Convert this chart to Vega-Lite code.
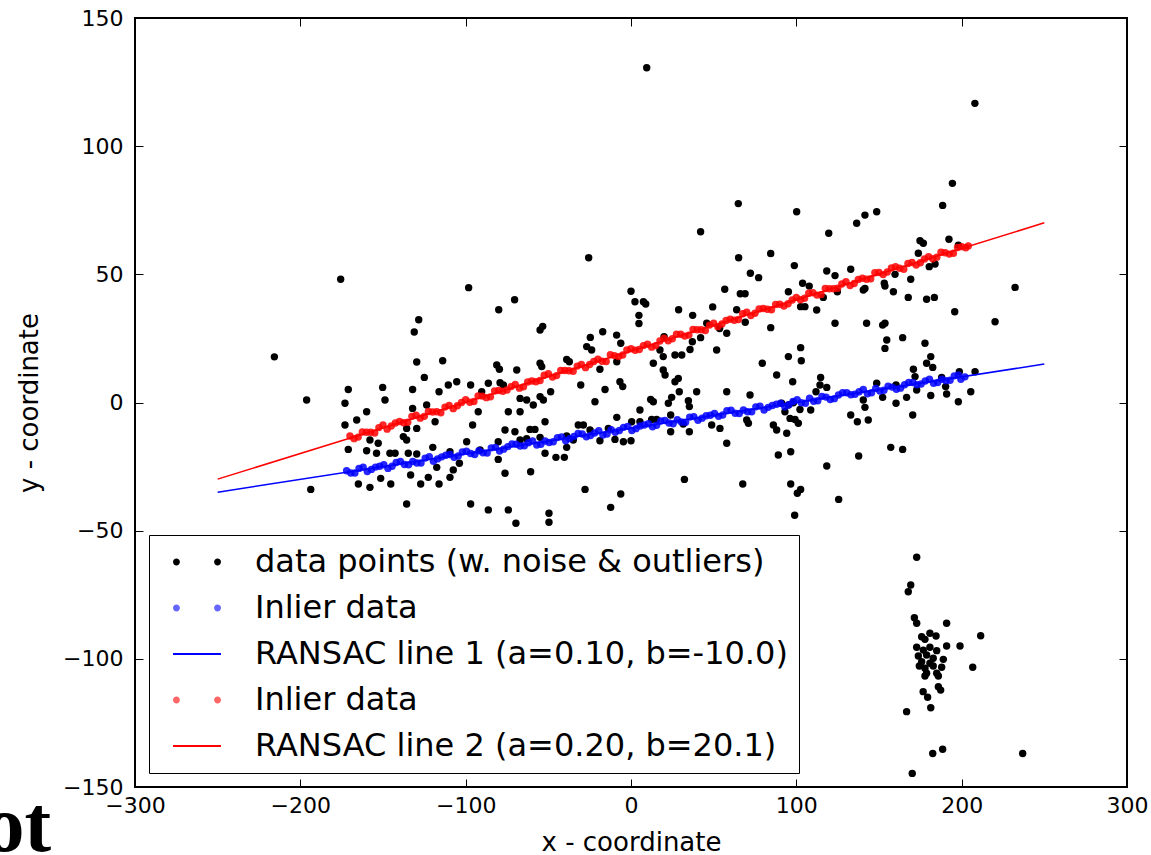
{
  "$schema": "https://vega.github.io/schema/vega-lite/v6.json",
  "autosize": {"type": "none"},
  "padding": {"left": 135, "top": 18, "right": 24, "bottom": 68},
  "width": 992,
  "height": 769,
  "background": "white",
  "title": {"text": "ot", "orient": "bottom", "anchor": "start", "frame": "bounds", "font": "Liberation Serif", "fontWeight": "bold", "fontSize": 80, "color": "black", "baseline": "alphabetic", "offset": -4, "dx": -32},
  "config": {
    "view": {"stroke": "black", "strokeWidth": 2},
    "axis": {"grid": false, "domain": false, "labelFont": "DejaVu Sans", "labelFontSize": 22, "labelColor": "black", "titleFont": "DejaVu Sans", "titleFontSize": 26, "titleFontWeight": "normal", "titleColor": "black", "tickColor": "black", "tickSize": -8, "tickWidth": 1, "labelFlush": false, "labelOverlap": false}
  },
  "datasets": {
    "pts": [
      {"x":-175.6,"y":48.1},{"x":-98.2,"y":44.8},{"x":-80.0,"y":36.2},{"x":-70.4,"y":40.1},{"x":-128.4,"y":32.3},{"x":-131.1,"y":27.5},{"x":-215.7,"y":17.8},{"x":-129.6,"y":15.8},{"x":-113.9,"y":16.3},
      {"x":64.9,"y":77.6},{"x":42.1,"y":66.6},{"x":-25.6,"y":56.5},{"x":65.1,"y":56.5},{"x":84.5,"y":58.1},{"x":72.2,"y":50.4},{"x":77.2,"y":48.7},{"x":56.7,"y":44.2},{"x":66.1,"y":42.4},{"x":69.0,"y":42.4},{"x":0,"y":43.4},{"x":2.4,"y":39.3},{"x":7.5,"y":39.3},{"x":8.9,"y":38.4},{"x":4.8,"y":34.0},{"x":4.8,"y":30.8},{"x":-53.4,"y":29.7},{"x":-55.0,"y":28.3},{"x":28.8,"y":36.2},{"x":37.3,"y":34.0},{"x":49.4,"y":37.3},{"x":63.9,"y":36.2},{"x":84.5,"y":29.2},{"x":69.1,"y":31.3},{"x":53.6,"y":28.9},{"x":57.9,"y":27.0},{"x":45.8,"y":30.9},{"x":42.1,"y":25.3},{"x":51.8,"y":20.5},{"x":-17.1,"y":27.6},{"x":-24.6,"y":25.4},{"x":-8.7,"y":26.3},{"x":-6.2,"y":23.1},{"x":-26.8,"y":21.8},{"x":-23.8,"y":20.5},{"x":20.0,"y":25.7},{"x":37.1,"y":23.7},{"x":35.7,"y":20.7},{"x":17.5,"y":20.5},{"x":19.5,"y":17.9},{"x":26.6,"y":18.5},{"x":30.7,"y":18.5},{"x":-38.9,"y":16.8},
      {"x":194.4,"y":85.5},{"x":188.5,"y":76.9},{"x":100.2,"y":74.4},{"x":141.5,"y":73.1},{"x":148.6,"y":74.4},{"x":136.5,"y":69.9},{"x":119.6,"y":66.0},{"x":174.8,"y":63.1},{"x":176.8,"y":62.1},{"x":192.3,"y":63.7},{"x":198.0,"y":61.4},{"x":173.8,"y":58.2},{"x":98.8,"y":53.4},{"x":118.4,"y":51.3},{"x":123.4,"y":49.5},{"x":132.9,"y":52.0},{"x":180.4,"y":53.0},{"x":183.9,"y":54.0},{"x":159.7,"y":50.0},{"x":169.2,"y":48.1},{"x":153.2,"y":46.5},{"x":153.6,"y":45.4},{"x":158.7,"y":43.2},{"x":140.5,"y":43.9},{"x":141.5,"y":44.5},{"x":103.8,"y":46.5},{"x":107.8,"y":45.4},{"x":95.2,"y":43.2},{"x":116.3,"y":41.0},{"x":124.8,"y":43.2},{"x":167.7,"y":41.0},{"x":178.8,"y":40.3},{"x":183.5,"y":41.0},{"x":102.6,"y":37.4},{"x":105.2,"y":37.4},{"x":112.3,"y":36.1},{"x":195.8,"y":35.4},{"x":232.3,"y":44.9},{"x":220.2,"y":31.5},{"x":123.4,"y":30.9},{"x":142.5,"y":30.9},{"x":152.2,"y":30.2},{"x":153.6,"y":30.9},{"x":164.3,"y":25.3},{"x":154.7,"y":24.4},{"x":153.6,"y":21.1},{"x":177.8,"y":23.1},{"x":102.6,"y":21.4},{"x":95.2,"y":17.9},{"x":181.3,"y":17.9},{"x":103.0,"y":16.3},
      {"x":-81.2,"y":14.6},{"x":-79.6,"y":13.0},{"x":-125.0,"y":9.8},{"x":-105.4,"y":8.1},{"x":-110.5,"y":6.8},{"x":-97.0,"y":6.8},{"x":-86.3,"y":7.5},{"x":-79.2,"y":7.7},{"x":-77.2,"y":6.8},{"x":-69.1,"y":12.7},{"x":-150.2,"y":5.9},{"x":-171.0,"y":5.1},{"x":-132.1,"y":5.1},{"x":-116.1,"y":4.2},{"x":-90.3,"y":4.2},{"x":-196.2,"y":1.0},{"x":-148.8,"y":1.0},{"x":-173.0,"y":-0.3},{"x":-123.6,"y":-1.0},{"x":-132.1,"y":-2.3},{"x":-159.9,"y":-3.6},{"x":-92.4,"y":-3.6},{"x":-74.2,"y":-3.6},{"x":-67.1,"y":-3.6},{"x":-165.9,"y":-6.8},{"x":-118.5,"y":-7.5},{"x":-173.0,"y":-8.8},{"x":-95.8,"y":-8.8},{"x":-135.7,"y":-10.1},{"x":-129.6,"y":-10.1},{"x":-76.2,"y":-10.7},{"x":-70.2,"y":-11.4},{"x":-137.7,"y":-13.3},{"x":-135.7,"y":-14.6},{"x":-99.4,"y":-15.3},{"x":-80.3,"y":-15.3},{"x":-157.9,"y":-14.6},{"x":-152.9,"y":-15.9},{"x":-171.0,"y":-18.3},{"x":-159.9,"y":-18.8},{"x":-153.9,"y":-19.8},{"x":-145.8,"y":-19.8},{"x":-142.7,"y":-19.8},{"x":-134.7,"y":-19.8},{"x":-129.6,"y":-20.1},{"x":-119.9,"y":-17.5},{"x":-109.5,"y":-19.2},{"x":-91.3,"y":-18.5},{"x":-117.5,"y":-25.3},{"x":-103.8,"y":-23.7},{"x":-107.5,"y":-26.3},{"x":-109.5,"y":-29.2},{"x":-80.3,"y":-22.2},{"x":-76.2,"y":-27.6},{"x":-133.3,"y":-28.3},{"x":-122.6,"y":-29.2},{"x":-151.4,"y":-29.6},{"x":-164.9,"y":-31.8},{"x":-157.9,"y":-33.1},{"x":-145.3,"y":-31.8},{"x":-127.2,"y":-31.8},{"x":-116.1,"y":-31.8},{"x":-193.7,"y":-33.9},{"x":-135.7,"y":-39.6},{"x":-97.0,"y":-39.6},{"x":-86.3,"y":-41.9},{"x":-74.2,"y":-41.9},{"x":-69.6,"y":-47.1},
      {"x":-54.0,"y":14.0},{"x":-55.0,"y":15.3},{"x":-37.3,"y":15.9},{"x":-18.8,"y":13.0},{"x":-8.6,"y":15.9},{"x":13.5,"y":15.3},{"x":19.5,"y":12.7},{"x":20.6,"y":10.7},{"x":26.6,"y":8.1},{"x":28.6,"y":9.4},{"x":79.4,"y":15.3},{"x":-30.4,"y":6.8},{"x":-15.7,"y":5.1},{"x":-6.7,"y":8.1},{"x":-5.0,"y":6.2},{"x":-48.6,"y":4.2},{"x":39.7,"y":4.2},{"x":57.9,"y":4.2},{"x":72.0,"y":2.9},{"x":88.1,"y":10.7},{"x":29.2,"y":4.2},{"x":-67.1,"y":1.6},{"x":-63.1,"y":1.0},{"x":-59.1,"y":-1.0},{"x":-55.0,"y":2.3},{"x":-53.0,"y":1.0},{"x":-21.8,"y":0.3},{"x":11.9,"y":1.2},{"x":13.5,"y":0.3},{"x":22.6,"y":-0.3},{"x":24.6,"y":2.0},{"x":34.7,"y":0.7},{"x":35.3,"y":-1.6},{"x":5.4,"y":-2.9},{"x":-52.0,"y":-7.5},{"x":-8.6,"y":-5.8},{"x":0.4,"y":-7.5},{"x":5.4,"y":-7.5},{"x":12.5,"y":-6.6},{"x":15.5,"y":-6.6},{"x":24.0,"y":-4.9},{"x":-31.9,"y":-8.8},{"x":-28.8,"y":-8.8},{"x":-61.1,"y":-10.5},{"x":-58.1,"y":-10.5},{"x":-24.8,"y":-10.7},{"x":-13.7,"y":-10.1},{"x":24.0,"y":-11.4},{"x":31.6,"y":-8.4},{"x":35.3,"y":-11.4},{"x":48.8,"y":-8.8},{"x":53.8,"y":-10.1},{"x":70.0,"y":-6.8},{"x":71.0,"y":-8.1},{"x":-67.1,"y":-14.6},{"x":-63.1,"y":-14.1},{"x":-55.0,"y":-13.6},{"x":-38.9,"y":-13.1},{"x":-34.9,"y":-14.6},{"x":-18.8,"y":-14.9},{"x":-9.7,"y":-14.4},{"x":-4.6,"y":-15.3},{"x":0.0,"y":-14.9},{"x":-38.9,"y":-17.5},{"x":-52.0,"y":-19.8},{"x":-45.4,"y":-21.4},{"x":-40.3,"y":-21.4},{"x":57.9,"y":-15.9},{"x":-60.7,"y":-27.0},{"x":-27.8,"y":-33.9},{"x":-6.2,"y":-35.7},{"x":-12.3,"y":-40.9},{"x":32.3,"y":-30.0},{"x":67.6,"y":-31.8},{"x":-49.6,"y":-43.2},{"x":-49.6,"y":-46.7},{"x":86.1,"y":-8.8},{"x":88.1,"y":-10.7},{"x":89.1,"y":-20.5},
      {"x":178.8,"y":15.3},{"x":182.5,"y":13.7},{"x":170.8,"y":13.0},{"x":114.7,"y":9.8},{"x":97.8,"y":8.1},{"x":114.3,"y":6.8},{"x":118.4,"y":5.9},{"x":111.9,"y":4.2},{"x":148.6,"y":7.5},{"x":171.8,"y":10.1},{"x":187.9,"y":9.8},{"x":198.6,"y":12.0},{"x":208.1,"y":12.0},{"x":160.3,"y":6.8},{"x":172.8,"y":4.9},{"x":190.3,"y":6.2},{"x":190.9,"y":3.3},{"x":181.3,"y":2.7},{"x":205.5,"y":4.2},{"x":198.0,"y":0.3},{"x":152.2,"y":2.0},{"x":166.7,"y":2.0},{"x":160.3,"y":-0.3},{"x":140.5,"y":1.0},{"x":141.5,"y":-1.9},{"x":170.4,"y":-4.9},{"x":91.1,"y":-0.3},{"x":95.2,"y":-1.0},{"x":98.2,"y":-0.1},{"x":102.2,"y":-2.7},{"x":108.7,"y":-2.9},{"x":93.1,"y":-3.6},{"x":96.2,"y":-6.2},{"x":99.2,"y":-6.6},{"x":101.2,"y":-8.1},{"x":132.9,"y":-4.9},{"x":136.9,"y":-7.5},{"x":143.5,"y":-6.8},{"x":94.2,"y":-12.0},{"x":96.6,"y":-19.2},{"x":157.1,"y":-17.5},{"x":164.3,"y":-18.3},{"x":137.7,"y":-20.9},{"x":118.4,"y":-24.8},{"x":96.6,"y":-31.8},{"x":100.6,"y":-35.4},{"x":102.6,"y":-33.9},{"x":125.6,"y":-37.8},{"x":99.0,"y":-44.0},
      {"x":172.8,"y":-60.4},{"x":169.2,"y":-71.2},{"x":167.7,"y":-73.8},{"x":171.4,"y":-84.0},{"x":172.8,"y":-86.1},{"x":190.9,"y":-86.1},{"x":211.5,"y":-91.0},{"x":175.8,"y":-91.4},{"x":180.8,"y":-90.0},{"x":184.5,"y":-91.1},{"x":177.8,"y":-92.4},{"x":199.0,"y":-95.0},{"x":190.9,"y":-95.0},{"x":172.8,"y":-95.5},{"x":176.8,"y":-96.6},{"x":180.8,"y":-95.5},{"x":184.9,"y":-96.8},{"x":173.8,"y":-98.9},{"x":178.8,"y":-98.5},{"x":182.8,"y":-99.8},{"x":188.9,"y":-100.2},{"x":175.8,"y":-101.1},{"x":180.8,"y":-101.7},{"x":174.4,"y":-102.8},{"x":177.8,"y":-103.7},{"x":182.8,"y":-102.8},{"x":187.9,"y":-103.3},{"x":178.8,"y":-105.6},{"x":184.9,"y":-105.6},{"x":177.8,"y":-106.7},{"x":185.9,"y":-106.7},{"x":206.7,"y":-103.3},{"x":185.9,"y":-110.9},{"x":187.3,"y":-112.2},{"x":176.7,"y":-112.8},{"x":179.4,"y":-115.0},{"x":181.3,"y":-119.1},{"x":166.7,"y":-120.6},{"x":188.5,"y":-135.3},{"x":182.5,"y":-136.9},{"x":236.9,"y":-136.9},{"x":170.1,"y":-144.7},
      {"x":9.5,"y":130.6},{"x":208.0,"y":116.7}
    ],
    "in1": [
      {"x":-172,"y":-26.6},{"x":-167,"y":-27.5},{"x":-162,"y":-25.2},{"x":-157,"y":-26.1},{"x":-152,"y":-24.9},{"x":-147,"y":-25.7},{"x":-142,"y":-23.4},{"x":-137,"y":-24.2},{"x":-132,"y":-23.0},{"x":-127,"y":-23.6},{"x":-122,"y":-21.1},{"x":-117,"y":-22.0},{"x":-112,"y":-20.6},{"x":-107,"y":-21.4},{"x":-102,"y":-19.3},{"x":-97,"y":-19.9},{"x":-92,"y":-18.8},{"x":-87,"y":-19.7},{"x":-82,"y":-17.5},{"x":-77,"y":-18.2},{"x":-72,"y":-16.2},{"x":-67,"y":-17.0},{"x":-62,"y":-15.7},{"x":-57,"y":-16.6},{"x":-52,"y":-15.0},{"x":-47,"y":-15.3},{"x":-42,"y":-13.4},{"x":-37,"y":-14.1},{"x":-32,"y":-12.1},{"x":-27,"y":-13.4},{"x":-22,"y":-11.9},{"x":-17,"y":-12.7},{"x":-12,"y":-10.6},{"x":-7,"y":-10.9},{"x":-2,"y":-9.3},{"x":3,"y":-10.2},{"x":8,"y":-8.8},{"x":13,"y":-9.5},{"x":18,"y":-7.2},{"x":23,"y":-8.0},{"x":28,"y":-6.7},{"x":33,"y":-7.7},{"x":38,"y":-5.5},{"x":43,"y":-6.1},{"x":48,"y":-5.0},{"x":53,"y":-5.4},{"x":58,"y":-3.2},{"x":63,"y":-4.2},{"x":68,"y":-2.9},{"x":73,"y":-3.6},{"x":78,"y":-1.4},{"x":83,"y":-1.9},{"x":88,"y":-0.7},{"x":93,"y":-1.7},{"x":98,"y":0.4},{"x":103,"y":-0.1},{"x":108,"y":1.7},{"x":113,"y":0.7},{"x":118,"y":2.1},{"x":123,"y":1.5},{"x":128,"y":3.8},{"x":133,"y":3.0},{"x":138,"y":4.2},{"x":143,"y":3.4},{"x":148,"y":5.5},{"x":153,"y":4.8},{"x":158,"y":6.0},{"x":163,"y":5.6},{"x":168,"y":7.8},{"x":173,"y":6.9},{"x":178,"y":8.4},{"x":183,"y":7.5},{"x":188,"y":9.1},{"x":193,"y":8.7},{"x":198,"y":10.7},{"x":202,"y":10.0},
      {"x":-169.5,"y":-27.5},{"x":-164.5,"y":-25.7},{"x":-159.5,"y":-26.9},{"x":-154.5,"y":-25.2},{"x":-149.5,"y":-24.3},{"x":-144.5,"y":-24.9},{"x":-139.5,"y":-23.0},{"x":-134.5,"y":-24.3},{"x":-129.5,"y":-23.6},{"x":-124.5,"y":-21.7},{"x":-119.5,"y":-22.9},{"x":-114.5,"y":-21.2},{"x":-109.5,"y":-20.3},{"x":-104.5,"y":-20.9},{"x":-99.5,"y":-19.0},{"x":-94.5,"y":-20.3},{"x":-89.5,"y":-19.6},{"x":-84.5,"y":-17.7},{"x":-79.5,"y":-18.9},{"x":-74.5,"y":-17.2},{"x":-69.5,"y":-16.3},{"x":-64.5,"y":-16.9},{"x":-59.5,"y":-15.0},{"x":-54.5,"y":-16.3},{"x":-49.5,"y":-15.6},{"x":-44.5,"y":-13.7},{"x":-39.5,"y":-14.9},{"x":-34.5,"y":-13.2},{"x":-29.5,"y":-12.3},{"x":-24.5,"y":-12.9},{"x":-19.5,"y":-11.0},{"x":-14.5,"y":-12.3},{"x":-9.5,"y":-11.6},{"x":-4.5,"y":-9.7},{"x":0.5,"y":-10.9},{"x":5.5,"y":-9.2},{"x":10.5,"y":-8.3},{"x":15.5,"y":-8.9},{"x":20.5,"y":-7.0},{"x":25.5,"y":-8.3},{"x":30.5,"y":-7.6},{"x":35.5,"y":-5.7},{"x":40.5,"y":-6.9},{"x":45.5,"y":-5.2},{"x":50.5,"y":-4.3},{"x":55.5,"y":-4.9},{"x":60.5,"y":-3.0},{"x":65.5,"y":-4.3},{"x":70.5,"y":-3.6},{"x":75.5,"y":-1.7},{"x":80.5,"y":-2.9},{"x":85.5,"y":-1.2},{"x":90.5,"y":-0.3},{"x":95.5,"y":-0.9},{"x":100.5,"y":1.1},{"x":105.5,"y":-0.3},{"x":110.5,"y":0.5},{"x":115.5,"y":2.4},{"x":120.5,"y":1.2},{"x":125.5,"y":2.9},{"x":130.5,"y":3.8},{"x":135.5,"y":3.2},{"x":140.5,"y":5.1},{"x":145.5,"y":3.8},{"x":150.5,"y":4.5},{"x":155.5,"y":6.4},{"x":160.5,"y":5.2},{"x":165.5,"y":6.9},{"x":170.5,"y":7.8},{"x":175.5,"y":7.2},{"x":180.5,"y":9.1},{"x":185.5,"y":7.8},{"x":190.5,"y":8.5},{"x":195.5,"y":10.4},{"x":199.5,"y":9.1}
    ],
    "in2": [
      {"x":-170,"y":-13.1},{"x":-165,"y":-13.5},{"x":-160,"y":-11.6},{"x":-155,"y":-11.9},{"x":-150,"y":-8.8},{"x":-145,"y":-9.2},{"x":-140,"y":-7.4},{"x":-135,"y":-7.7},{"x":-130,"y":-5.0},{"x":-125,"y":-5.4},{"x":-120,"y":-3.7},{"x":-115,"y":-4.0},{"x":-110,"y":-1.2},{"x":-105,"y":-1.3},{"x":-100,"y":1.1},{"x":-95,"y":0.4},{"x":-90,"y":2.5},{"x":-85,"y":2.2},{"x":-80,"y":4.7},{"x":-75,"y":4.9},{"x":-70,"y":7.0},{"x":-65,"y":6.1},{"x":-60,"y":8.4},{"x":-55,"y":8.6},{"x":-50,"y":11.2},{"x":-45,"y":10.5},{"x":-40,"y":12.5},{"x":-35,"y":12.2},{"x":-30,"y":14.8},{"x":-25,"y":14.8},{"x":-20,"y":16.9},{"x":-15,"y":16.0},{"x":-10,"y":18.3},{"x":-5,"y":18.5},{"x":0,"y":21.0},{"x":5,"y":20.7},{"x":10,"y":22.7},{"x":15,"y":22.2},{"x":20,"y":25.1},{"x":25,"y":24.9},{"x":30,"y":26.6},{"x":35,"y":26.3},{"x":40,"y":28.4},{"x":45,"y":28.1},{"x":50,"y":30.9},{"x":55,"y":30.6},{"x":60,"y":32.5},{"x":65,"y":32.4},{"x":70,"y":35.2},{"x":75,"y":34.8},{"x":80,"y":36.7},{"x":85,"y":36.2},{"x":90,"y":38.3},{"x":95,"y":38.5},{"x":100,"y":41.0},{"x":105,"y":40.7},{"x":110,"y":42.8},{"x":115,"y":42.1},{"x":120,"y":44.4},{"x":125,"y":44.6},{"x":130,"y":47.1},{"x":135,"y":46.4},{"x":140,"y":48.5},{"x":145,"y":48.3},{"x":150,"y":50.7},{"x":155,"y":50.9},{"x":160,"y":53.0},{"x":165,"y":52.0},{"x":170,"y":54.6},{"x":175,"y":54.5},{"x":180,"y":56.9},{"x":185,"y":56.7},{"x":190,"y":58.4},{"x":195,"y":58.2},{"x":200,"y":60.8},{"x":204,"y":61.1},
      {"x":-167.5,"y":-14.1},{"x":-162.5,"y":-11.5},{"x":-157.5,"y":-11.6},{"x":-152.5,"y":-9.8},{"x":-147.5,"y":-10.4},{"x":-142.5,"y":-8.0},{"x":-137.5,"y":-7.9},{"x":-132.5,"y":-5.4},{"x":-127.5,"y":-6.1},{"x":-122.5,"y":-3.5},{"x":-117.5,"y":-3.6},{"x":-112.5,"y":-1.8},{"x":-107.5,"y":-2.4},{"x":-102.5,"y":0.0},{"x":-97.5,"y":0.1},{"x":-92.5,"y":2.6},{"x":-87.5,"y":1.9},{"x":-82.5,"y":4.5},{"x":-77.5,"y":4.4},{"x":-72.5,"y":6.2},{"x":-67.5,"y":5.6},{"x":-62.5,"y":8.0},{"x":-57.5,"y":8.1},{"x":-52.5,"y":10.6},{"x":-47.5,"y":9.9},{"x":-42.5,"y":12.5},{"x":-37.5,"y":12.4},{"x":-32.5,"y":14.2},{"x":-27.5,"y":13.6},{"x":-22.5,"y":16.0},{"x":-17.5,"y":16.1},{"x":-12.5,"y":18.6},{"x":-7.5,"y":17.9},{"x":-2.5,"y":20.5},{"x":2.5,"y":20.4},{"x":7.5,"y":22.2},{"x":12.5,"y":21.6},{"x":17.5,"y":24.0},{"x":22.5,"y":24.1},{"x":27.5,"y":26.6},{"x":32.5,"y":25.9},{"x":37.5,"y":28.5},{"x":42.5,"y":28.4},{"x":47.5,"y":30.2},{"x":52.5,"y":29.6},{"x":57.5,"y":32.0},{"x":62.5,"y":32.1},{"x":67.5,"y":34.6},{"x":72.5,"y":33.9},{"x":77.5,"y":36.5},{"x":82.5,"y":36.4},{"x":87.5,"y":38.2},{"x":92.5,"y":37.6},{"x":97.5,"y":40.0},{"x":102.5,"y":40.1},{"x":107.5,"y":42.6},{"x":112.5,"y":41.9},{"x":117.5,"y":44.5},{"x":122.5,"y":44.4},{"x":127.5,"y":46.2},{"x":132.5,"y":45.6},{"x":137.5,"y":48.0},{"x":142.5,"y":48.1},{"x":147.5,"y":50.6},{"x":152.5,"y":49.9},{"x":157.5,"y":52.5},{"x":162.5,"y":52.4},{"x":167.5,"y":54.2},{"x":172.5,"y":53.6},{"x":177.5,"y":56.0},{"x":182.5,"y":56.1},{"x":187.5,"y":58.6},{"x":192.5,"y":57.9},{"x":197.5,"y":60.5},{"x":202.5,"y":60.4}
    ],
    "ln1": [{"x":-250,"y":-35.0},{"x":250,"y":15.0}],
    "ln2": [{"x":-250,"y":-29.9},{"x":250,"y":70.1}]
  },
  "layer": [
    {
      "layer": [
        {
          "data": {"name": "pts"},
          "mark": {"type": "point", "filled": true, "size": 55, "opacity": 1, "strokeWidth": 0},
          "encoding": {
            "x": {"field": "x", "type": "quantitative", "scale": {"domain": [-300, 300], "nice": false, "zero": false}, "axis": {"orient": "bottom", "title": "x - coordinate", "values": [-300, -200, -100, 0, 100, 200, 300], "labelPadding": 16, "titlePadding": 13}},
            "y": {"field": "y", "type": "quantitative", "scale": {"domain": [-150, 150], "nice": false, "zero": false}, "axis": {"orient": "left", "title": "y - coordinate", "values": [-150, -100, -50, 0, 50, 100, 150], "labelPadding": 20, "titlePadding": 20}},
            "color": {
              "datum": "pts", "type": "nominal",
              "scale": {"domain": ["pts", "in1", "ln1", "in2", "ln2"], "range": ["#000000", "#0000ff", "#0000ff", "#ff0000", "#ff0000"]},
              "legend": {
                "title": null, "orient": "bottom-left", "direction": "vertical", "offset": 14, "padding": 11,
                "fillColor": "white", "strokeColor": "black", "cornerRadius": 0,
                "symbolSize": 900, "symbolOffset": 21, "labelOffset": 42, "rowPadding": 14, "symbolStrokeWidth": 0,
                "labelFont": "DejaVu Sans", "labelFontSize": 32, "labelColor": "black", "labelLimit": 2000,
                "labelExpr": "datum.value === 'pts' ? 'data points (w. noise & outliers)  ' : datum.value === 'ln1' ? 'RANSAC line 1 (a=0.10, b=-10.0)' : datum.value === 'ln2' ? 'RANSAC line 2 (a=0.20, b=20.1)' : 'Inlier data'"
              }
            }
          }
        },
        {
          "data": {"values": []},
          "mark": {"type": "point", "filled": true},
          "encoding": {
            "color": {"datum": "pts", "type": "nominal"},
            "shape": {
              "datum": "pts", "type": "nominal",
              "scale": {"domain": ["pts", "in1", "ln1", "in2", "ln2"], "range": [
                "M-1.6,0A0.23,0.23 0 1,0 -1.14,0A0.23,0.23 0 1,0 -1.6,0ZM1.14,0A0.23,0.23 0 1,0 1.6,0A0.23,0.23 0 1,0 1.14,0Z",
                "M-1.6,0A0.23,0.23 0 1,0 -1.14,0A0.23,0.23 0 1,0 -1.6,0ZM1.14,0A0.23,0.23 0 1,0 1.6,0A0.23,0.23 0 1,0 1.14,0Z",
                "M-1.6,-0.06L1.6,-0.06L1.6,0.06L-1.6,0.06Z",
                "M-1.6,0A0.23,0.23 0 1,0 -1.14,0A0.23,0.23 0 1,0 -1.6,0ZM1.14,0A0.23,0.23 0 1,0 1.6,0A0.23,0.23 0 1,0 1.14,0Z",
                "M-1.6,-0.06L1.6,-0.06L1.6,0.06L-1.6,0.06Z"
              ]},
              "legend": {"title": null}
            },
            "opacity": {
              "datum": "pts", "type": "nominal",
              "scale": {"type": "ordinal", "domain": ["pts", "in1", "ln1", "in2", "ln2"], "range": [1, 0.6, 1, 0.6, 1]},
              "legend": {"title": null}
            }
          }
        },
        {
          "data": {"name": "in1"},
          "mark": {"type": "point", "filled": true, "size": 55, "opacity": 0.85, "strokeWidth": 0},
          "encoding": {
            "x": {"field": "x", "type": "quantitative"},
            "y": {"field": "y", "type": "quantitative"},
            "color": {"datum": "in1", "type": "nominal"}
          }
        },
        {
          "data": {"name": "ln1"},
          "mark": {"type": "line", "strokeWidth": 1.5},
          "encoding": {
            "x": {"field": "x", "type": "quantitative"},
            "y": {"field": "y", "type": "quantitative"},
            "color": {"datum": "ln1", "type": "nominal"}
          }
        },
        {
          "data": {"name": "in2"},
          "mark": {"type": "point", "filled": true, "size": 55, "opacity": 0.85, "strokeWidth": 0},
          "encoding": {
            "x": {"field": "x", "type": "quantitative"},
            "y": {"field": "y", "type": "quantitative"},
            "color": {"datum": "in2", "type": "nominal"}
          }
        }
      ]
    },
    {
      "data": {"name": "ln2"},
      "mark": {"type": "line", "strokeWidth": 1.5},
      "encoding": {
        "x": {"field": "x", "type": "quantitative", "scale": {"domain": [-300, 300], "nice": false, "zero": false}, "axis": {"orient": "top", "labels": false, "title": null, "values": [-300, -200, -100, 0, 100, 200, 300]}},
        "y": {"field": "y", "type": "quantitative", "scale": {"domain": [-150, 150], "nice": false, "zero": false}, "axis": {"orient": "right", "labels": false, "title": null, "values": [-150, -100, -50, 0, 50, 100, 150]}},
        "color": {"datum": "ln2", "type": "nominal"}
      }
    }
  ],
  "resolve": {"scale": {"x": "independent", "y": "independent"}}
}
